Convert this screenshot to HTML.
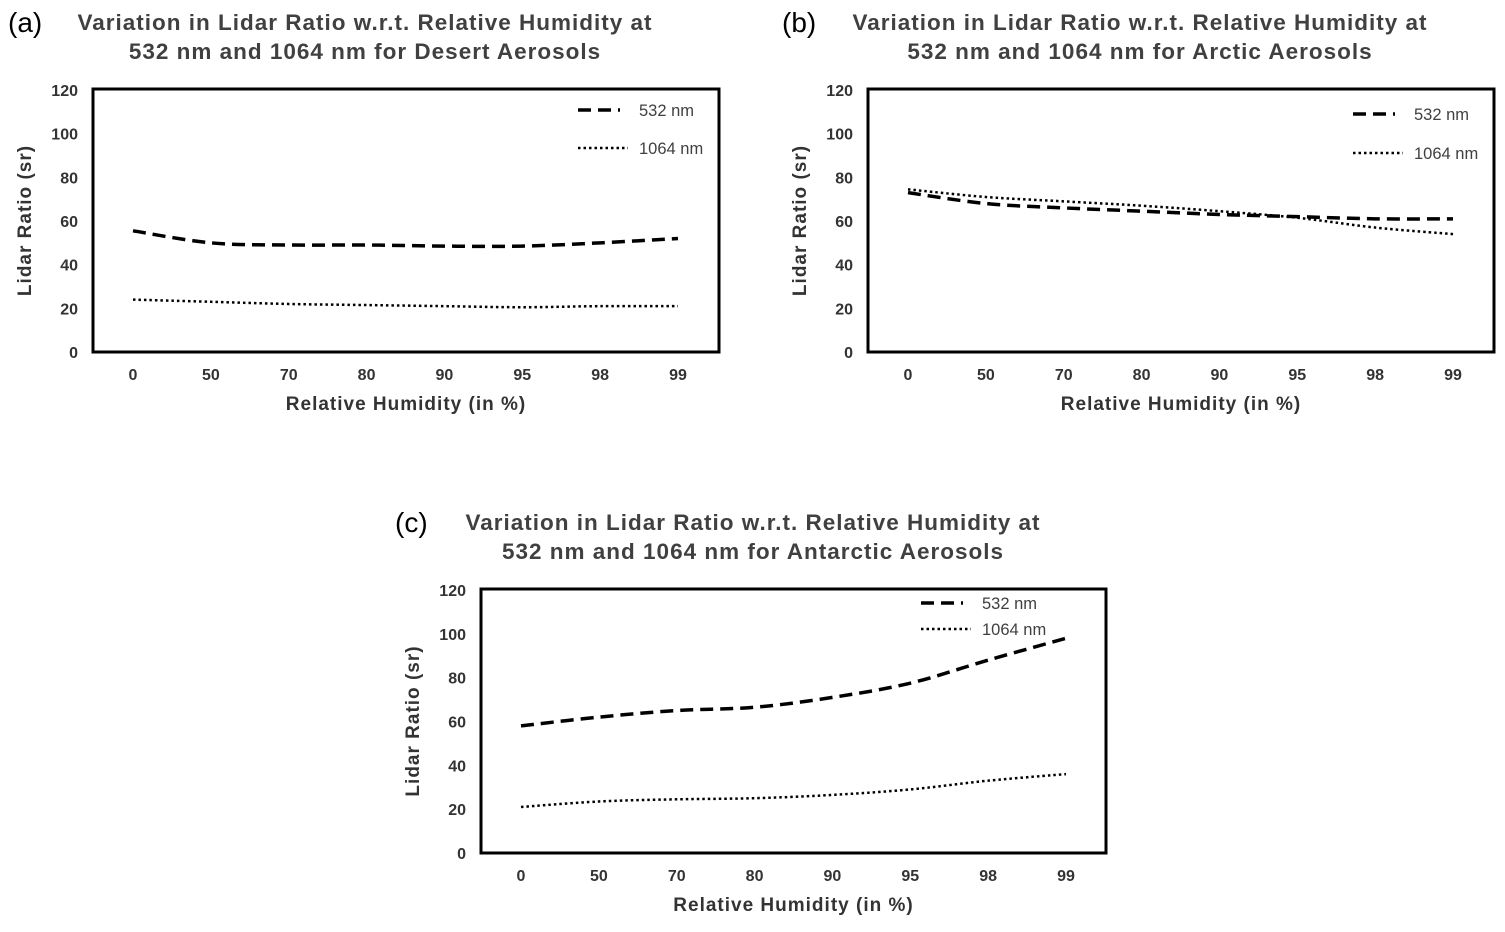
<!DOCTYPE html>
<html><head><meta charset="utf-8">
<style>
body{margin:0;background:#fff;width:1505px;height:932px;overflow:hidden;font-family:"Liberation Sans",sans-serif}
svg{position:absolute;left:0;top:0}
</style></head>
<body>
<svg id="s" width="1505" height="932"></svg>
<script>
const categories = ["0","50","70","80","90","95","98","99"];
const yTicks = [0,20,40,60,80,100,120];
const desert532 = [55.5,50,49,49,48.5,48.5,50,52];
const desert1064 = [24,23,22,21.5,21,20.5,21,21];
const arctic532 = [73,68,66,64.5,63,62,61,61];
const arctic1064 = [74.5,71,69,67,64.5,61.5,57,54];
const antarctic532 = [58,62,65,66.5,71,77.5,88,98];
const antarctic1064 = [21,23.5,24.5,25,26.5,29,33,36];

const NS="http://www.w3.org/2000/svg";
const svg=document.getElementById('s');
function mk(tag,attrs,parent,text){const e=document.createElementNS(NS,tag);for(const k in attrs)e.setAttribute(k,attrs[k]);if(text!==undefined)e.textContent=text;(parent||svg).appendChild(e);return e;}

const panels=[
 {id:'a',label:'(a)',lx:8,title:['Variation in Lidar Ratio w.r.t. Relative Humidity at','532 nm and 1064 nm for Desert Aerosols'],tx:365,ty:22,
  x0:93,x1:719,y0:89,y1:352,first:133,last:678,s1:desert532,s2:desert1064,legX:578,legY1:110,legY2:148},
 {id:'b',label:'(b)',lx:782,title:['Variation in Lidar Ratio w.r.t. Relative Humidity at','532 nm and 1064 nm for Arctic Aerosols'],tx:1140,ty:22,
  x0:868,x1:1494,y0:89,y1:352,first:908,last:1453,s1:arctic532,s2:arctic1064,legX:1353,legY1:114,legY2:153},
 {id:'c',label:'(c)',lx:395,title:['Variation in Lidar Ratio w.r.t. Relative Humidity at','532 nm and 1064 nm for Antarctic Aerosols'],tx:753,ty:522,
  x0:481,x1:1106,y0:589,y1:853,first:521,last:1066,s1:antarctic532,s2:antarctic1064,legX:921,legY1:603,legY2:629}
];

function smoothPath(pts){
 let d=`M${pts[0][0]},${pts[0][1]}`;
 for(let i=0;i<pts.length-1;i++){
  const p0=pts[Math.max(0,i-1)],p1=pts[i],p2=pts[i+1],p3=pts[Math.min(pts.length-1,i+2)];
  const c1=[p1[0]+(p2[0]-p0[0])/6,p1[1]+(p2[1]-p0[1])/6];
  const c2=[p2[0]-(p3[0]-p1[0])/6,p2[1]-(p3[1]-p1[1])/6];
  d+=` C${c1[0]},${c1[1]} ${c2[0]},${c2[1]} ${p2[0]},${p2[1]}`;
 }
 return d;
}

panels.forEach(p=>{
 const g=mk('g',{});
 
 
 const yS=v=>p.y1-(v/120)*(p.y1-p.y0-1);
 const xS=i=>p.first+i*(p.last-p.first)/(categories.length-1);
 const pl=mk('text',{x:p.lx,y:p.ty+10,'font-size':28,fill:'#000'},g,p.label);
 
 p.title.forEach((t,i)=>{const e=mk('text',{x:p.tx,y:p.ty+8+i*29,'font-size':22.5,'font-weight':'bold','letter-spacing':1,fill:'#404040','text-anchor':'middle'},g,t);
  });
 const box=mk('rect',{x:p.x0,y:p.y0,width:p.x1-p.x0,height:p.y1-p.y0,fill:'none',stroke:'#000','stroke-width':3},g);
 
 yTicks.forEach(v=>{const e=mk('text',{x:p.x0-15,y:yS(v)+6,'font-size':16,'font-weight':'bold',fill:'#333','text-anchor':'end'},g,v);
  });
 categories.forEach((c,i)=>{const e=mk('text',{x:xS(i),y:p.y1+28,'font-size':16,'font-weight':'bold',fill:'#333','text-anchor':'middle'},g,c);
  });
 const xt=mk('text',{x:(p.x0+p.x1)/2,y:p.y1+58,'font-size':19,'font-weight':'bold','letter-spacing':1,fill:'#333','text-anchor':'middle'},g,'Relative Humidity (in %)');
 
 const ycx=p.x0-62,ycy=(p.y0+p.y1)/2;
 const yt=mk('text',{x:ycx,y:ycy,'font-size':19,'font-weight':'bold','letter-spacing':1,fill:'#333','text-anchor':'middle',transform:`rotate(-90 ${ycx} ${ycy})`},g,'Lidar Ratio (sr)');
 
 const l1=mk('path',{d:smoothPath(p.s1.map((v,i)=>[xS(i),yS(v)])),fill:'none',stroke:'#000','stroke-width':3.5,'stroke-dasharray':'13 7'},g);
 
 const l2=mk('path',{d:smoothPath(p.s2.map((v,i)=>[xS(i),yS(v)])),fill:'none',stroke:'#000','stroke-width':2.5,'stroke-dasharray':'2.5 3'},g);
 
 const le1=mk('line',{x1:p.legX,y1:p.legY1,x2:p.legX+42,y2:p.legY1,stroke:'#000','stroke-width':3.5,'stroke-dasharray':'13 7'},g);
 
 const lt1=mk('text',{x:p.legX+61,y:p.legY1+6,'font-size':16.5,fill:'#404040'},g,'532 nm');
 
 const le2=mk('line',{x1:p.legX,y1:p.legY2,x2:p.legX+50,y2:p.legY2,stroke:'#000','stroke-width':2.5,'stroke-dasharray':'2.5 3'},g);
 
 const lt2=mk('text',{x:p.legX+61,y:p.legY2+6,'font-size':16.5,fill:'#404040'},g,'1064 nm');
 
});
</script>
</body></html>
